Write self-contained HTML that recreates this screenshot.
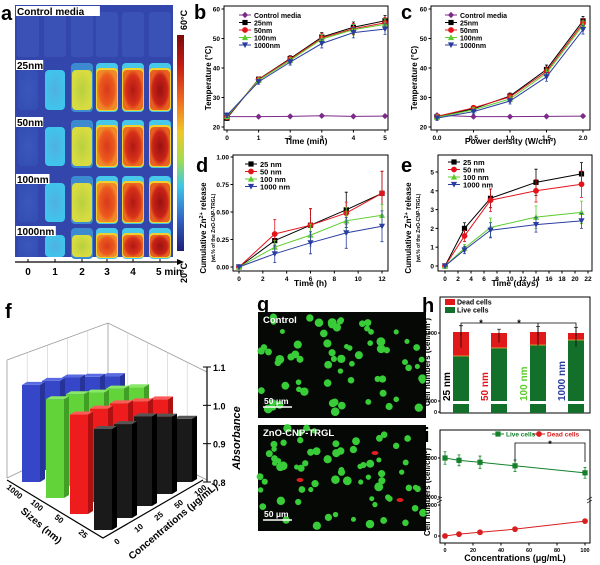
<!DOCTYPE html>
<html><head><meta charset="utf-8">
<style>
html,body{margin:0;padding:0;background:#fff;}
svg{display:block;font-family:"Liberation Sans",Arial,sans-serif;font-weight:bold;}
</style></head>
<body>
<svg id="fig" width="600" height="565" viewBox="0 0 600 565" xmlns="http://www.w3.org/2000/svg">
<defs>
<linearGradient id="cbar" x1="0" y1="0" x2="0" y2="1">
<stop offset="0" stop-color="#7a0a0a"/><stop offset="0.15" stop-color="#c81e14"/><stop offset="0.3" stop-color="#f06a1e"/>
<stop offset="0.45" stop-color="#f0c828"/><stop offset="0.58" stop-color="#a0dc50"/><stop offset="0.7" stop-color="#3cc8e8"/>
<stop offset="0.85" stop-color="#3264c8"/><stop offset="1" stop-color="#1e1e78"/></linearGradient>
<radialGradient id="hot5"><stop offset="0" stop-color="#9a1010"/><stop offset="0.75" stop-color="#c82418"/><stop offset="1" stop-color="#e86020"/></radialGradient>
<radialGradient id="hot4"><stop offset="0" stop-color="#b01814"/><stop offset="0.75" stop-color="#d8321a"/><stop offset="1" stop-color="#ec6a20"/></radialGradient>
<radialGradient id="hot3"><stop offset="0" stop-color="#d83a1a"/><stop offset="0.75" stop-color="#ec5a1e"/><stop offset="1" stop-color="#f08a28"/></radialGradient>
<radialGradient id="hot2"><stop offset="0" stop-color="#b8d040"/><stop offset="1" stop-color="#d8dc40"/></radialGradient>
<radialGradient id="hot1"><stop offset="0" stop-color="#50b0e0"/><stop offset="1" stop-color="#40c4ec"/></radialGradient>
<radialGradient id="hot0"><stop offset="0" stop-color="#3a58bc"/><stop offset="1" stop-color="#3550b4"/></radialGradient>
</defs>
<g id="panelA"></g>
<g id="panelB"></g>
<g id="panelC"></g>
<g id="panelD"></g>
<g id="panelE"></g>
<g id="panelF"></g>
<g id="panelG"></g>
<g id="panelH"></g>
<g id="panelI"></g>
</svg>
<script>
// ---------- data ----------
const bTimes=[0,1,2,3,4,5];
const bControl=[23.5,23.5,23.6,23.8,23.6,23.7];
const b25=[23,36.2,43.2,50.5,53.8,56];
const b50=[23.3,36.1,43,50.2,53.3,55.3];
const b100=[23.6,35.8,42.6,49.8,53,54.8];
const b1000=[24,35.3,42,48.3,52,53.2];
const bErr=[0.8,0.8,1,1.5,1.8,1.8];
const cPowers=[0,0.5,1,1.5,2];
const cControl=[24,23.5,23.5,23.6,23.7];
const c25=[23.5,26.2,30.5,39.5,56];
const c50=[23.6,26.5,30.2,38.8,55.2];
const c100=[23.3,25.8,29.5,38.2,54.5];
const c1000=[23,25.2,28.8,37,53];
const cErr=[0.8,0.8,1,1.5,1.5];
const dHours=[0,3,6,9,12];
const d25=[0,0.24,0.38,0.52,0.67];
const d50=[0,0.30,0.38,0.49,0.67];
const d100=[0,0.18,0.29,0.42,0.47];
const d1000=[0,0.12,0.22,0.31,0.37];
const dErr25=[0,0.05,0.15,0.16,0.2];
const dErr50=[0,0.13,0.15,0.1,0.2];
const dErr100=[0,0.06,0.1,0.12,0.1];
const dErr1000=[0,0.08,0.1,0.14,0.14];
const eDays=[0,3,7,14,21];
const e25=[0,2.0,3.6,4.45,4.9];
const e50=[0,1.6,3.5,4.0,4.35];
const e100=[0,0.95,2.05,2.6,2.85];
const e1000=[0,0.85,1.9,2.2,2.4];
const eErr25=[0,0.3,0.5,0.7,0.6];
const eErr50=[0,0.3,0.6,0.6,0.7];
const eErr100=[0,0.2,0.5,0.6,0.6];
const eErr1000=[0,0.2,0.4,0.4,0.4];
const fSizes=["1000","100","50","25"];
const fConcs=["0","10","25","50","100"];
const fBlue=[1.02,1.03,1.04,1.04,1.04];
const fGreen=[1.00,1.01,1.01,1.02,1.02];
const fRed=[0.98,0.99,1.00,1.00,1.00];
const fBlack=[0.965,0.97,0.985,0.975,0.955];
const hSizes=["25 nm","50 nm","100 nm","1000 nm"];
const hTotal=[5015,5000,5015,5000];
const hLive=[4662,4780,4823,4897];
const hErr=[230,140,200,200];
const iConcs=[0,10,25,50,100];
const iLive=[5000,4940,4890,4800,4620];
const iDead=[0,60,120,220,480];
const iLiveErr=[160,140,160,150,140];

const NS="http://www.w3.org/2000/svg";
function mk(parent,tag,attrs,text){const e=document.createElementNS(NS,tag);for(const k in attrs)e.setAttribute(k,attrs[k]);if(text!==undefined)e.textContent=text;parent.appendChild(e);return e;}

// ---------- panel a: thermal image ----------
(function(){
const g=document.getElementById('panelA');
let t=mk(g,'text',{x:1,y:20,'font-size':20});t.textContent='a';

let bg=mk(g,'rect',{x:15,y:5,width:158,height:252,fill:'#3246ac'});

const cols=[28,55,82,107,133,160];
cols.forEach(cx=>{const r=mk(g,'rect',{x:cx-11,y:12,width:22,height:45,rx:3,fill:'#3a52b6'});
});
const rows=[[70,110],[127,166],[183,222],[235,262]];
rows.forEach(rw=>{
 cols.forEach((cx,i)=>{
  const y0=rw[0],y1=Math.min(rw[1],257),h=y1-y0;
  if(i>=2){const cap=mk(g,'rect',{x:cx-11,y:y0-7,width:22,height:h+9,rx:4,fill:i>=3?'#48c8e8':'#3c8ad0'});
   }
  if(i>=3){const y=mk(g,'rect',{x:cx-11,y:y0-2,width:22,height:h+3,rx:4,fill:'#f0d030'});
   }
  const c=mk(g,'rect',{x:cx-10,y:y0,width:20,height:h,rx:4,fill:'url(#hot'+i+')'});
  
 });
});
const labels=[['Control media',16,6],['25nm',16,60],['50nm',16,117],['100nm',16,174],['1000nm',16,226]];
labels.forEach(l=>{const w=l[0].length*6.3+2;
 const r=mk(g,'rect',{x:l[1],y:l[2],width:w,height:10,fill:'#fff'});
 
 const tx=mk(g,'text',{x:l[1]+1,y:l[2]+9,'font-size':10},l[0]);
 });
const cb=mk(g,'rect',{x:177,y:35,width:7,height:216,fill:'url(#cbar)'});

const t1=mk(g,'text',{x:0,y:0,'font-size':9,transform:'translate(187,30) rotate(-90)'},'60°C');

const t2=mk(g,'text',{x:0,y:0,'font-size':9,transform:'translate(187,283) rotate(-90)'},'20°C');

const ax=mk(g,'line',{x1:15,y1:262,x2:180,y2:262,stroke:'#000','stroke-width':1.3});

const ar=mk(g,'polygon',{points:'184,262 177,259 177,265',fill:'#000'});

['0','1','2','3','4','5 min'].forEach((s,i)=>{
 const tk=mk(g,'line',{x1:cols[i],y1:259,x2:cols[i],y2:262,stroke:'#000'});
 
 const tl=mk(g,'text',{x:i==5?cols[i]-4:cols[i],y:275,'font-size':10,'text-anchor':i==5?'start':'middle'},s);
 });
})();

// ---------- generic line chart ----------
function marker(g,type,x,y,color){
 let m;const s=2.6;
 if(type==='square')m=mk(g,'rect',{x:x-s,y:y-s,width:2*s,height:2*s,fill:color});
 else if(type==='circle')m=mk(g,'circle',{cx:x,cy:y,r:s+0.3,fill:color});
 else if(type==='up')m=mk(g,'polygon',{points:`${x},${y-s-0.5} ${x-s-0.5},${y+s} ${x+s+0.5},${y+s}`,fill:color});
 else if(type==='down')m=mk(g,'polygon',{points:`${x},${y+s+0.5} ${x-s-0.5},${y-s} ${x+s+0.5},${y-s}`,fill:color});
 else m=mk(g,'polygon',{points:`${x},${y-s-0.5} ${x+s+0.5},${y} ${x},${y+s+0.5} ${x-s-0.5},${y}`,fill:color});
 
 
 return m;
}
function lineChart(o){
 const g=document.getElementById(o.id);
 const X=v=>o.px0+(v-o.xmin)/(o.xmax-o.xmin)*(o.px1-o.px0);
 const Y=v=>o.py1-(v-o.ymin)/(o.ymax-o.ymin)*(o.py1-o.py0);
 const fr=mk(g,'rect',{x:o.fx0,y:o.fy0,width:o.fx1-o.fx0,height:o.fy1-o.fy0,fill:'none',stroke:'#000','stroke-width':1});
 
 o.xticks.forEach((v,i)=>{const x=X(v);
  const tk=mk(g,'line',{x1:x,y1:o.fy1,x2:x,y2:o.fy1+2.5,stroke:'#000'});
  
  const tl=mk(g,'text',{x:x,y:o.fy1+10,'font-size':6.5,'text-anchor':'middle'},o.xlabels[i]);
  });
 o.yticks.forEach((v,i)=>{const y=Y(v);
  const tk=mk(g,'line',{x1:o.fx0,y1:y,x2:o.fx0-2.5,y2:y,stroke:'#000'});
  
  const tl=mk(g,'text',{x:o.fx0-4,y:y+2.5,'font-size':6.5,'text-anchor':'end'},o.ylabels[i]);
  });
 const xt=mk(g,'text',{x:(o.fx0+o.fx1)/2,y:o.xtitleY,'font-size':8.5,'text-anchor':'middle'},o.xtitle);
 
 o.ytitles.forEach(yt=>{const t=mk(g,'text',{x:0,y:0,'font-size':yt[2],'text-anchor':'middle',transform:`translate(${yt[0]},${yt[3]}) rotate(-90)`});
  t.innerHTML=yt[1];
  });
 const pl=mk(g,'text',{x:o.label[1],y:o.label[2],'font-size':20},o.label[0]);
 
 o.series.forEach(s=>{
  const pts=s.vals.map((v,i)=>X(o.xs[i])+','+Y(v)).join(' ');
  const ln=mk(g,'polyline',{points:pts,fill:'none',stroke:s.color,'stroke-width':1});
  
  s.vals.forEach((v,i)=>{const e=s.err?s.err[i]:0;
   if(e>0){const x=X(o.xs[i]);
    const eb=mk(g,'path',{d:`M${x},${Y(v-e)}V${Y(v+e)}M${x-1.5},${Y(v+e)}h3M${x-1.5},${Y(v-e)}h3`,stroke:s.color,'stroke-width':0.8,fill:'none'});
    }
   marker(g,s.marker,X(o.xs[i]),Y(v),s.color);});
 });
 o.series.forEach((s,i)=>{const lx=o.fx0+o.legX,ly=o.fy0+o.legY+i*o.legDy;
  const ll=mk(g,'line',{x1:lx,y1:ly,x2:lx+12,y2:ly,stroke:s.color,'stroke-width':1});
  
  marker(g,s.marker,lx+6,ly,s.color);
  const lt=mk(g,'text',{x:lx+15,y:ly+2.8,'font-size':o.legFont},s.name);
  });
}
const PUR='#7b2a88',BLK='#000',RED='#e3151c',GRN='#5ccd2c',BLU='#2b3ea0';
lineChart({id:'panelB',fx0:224,fx1:388,fy0:6,fy1:130,px0:227,px1:385,py0:9,py1:127,xmin:0,xmax:5,ymin:20,ymax:60,
 xs:bTimes,xticks:[0,1,2,3,4,5],xlabels:['0','1','2','3','4','5'],yticks:[20,30,40,50,60],ylabels:['20','30','40','50','60'],
 xtitle:'Time (min)',xtitleY:144,ytitles:[[211,'Temperature (°C)',8,78]],label:['b',194,19],legX:15,legY:9,legDy:7.5,legFont:7,
 series:[{name:'Control media',vals:bControl,err:bErr.map(()=>0.5),color:PUR,marker:'diamond'},
 {name:'25nm',vals:b25,err:bErr,color:BLK,marker:'square'},{name:'50nm',vals:b50,err:bErr,color:RED,marker:'circle'},
 {name:'100nm',vals:b100,err:bErr,color:GRN,marker:'up'},{name:'1000nm',vals:b1000,err:bErr,color:BLU,marker:'down'}]});
lineChart({id:'panelC',fx0:431,fx1:590,fy0:6,fy1:130,px0:437,px1:583,py0:9,py1:127,xmin:0,xmax:2,ymin:20,ymax:60,
 xs:cPowers,xticks:[0,0.5,1,1.5,2],xlabels:['0.0','0.5','1.0','1.5','2.0'],yticks:[20,30,40,50,60],ylabels:['20','30','40','50','60'],
 xtitle:'Power density (W/cm²)',xtitleY:144,ytitles:[[417,'Temperature (°C)',8,78]],label:['c',401,19],legX:14,legY:9,legDy:7.5,legFont:7,
 series:[{name:'Control media',vals:cControl,err:cErr.map(()=>0.5),color:PUR,marker:'diamond'},
 {name:'25nm',vals:c25,err:cErr,color:BLK,marker:'square'},{name:'50nm',vals:c50,err:cErr,color:RED,marker:'circle'},
 {name:'100nm',vals:c100,err:cErr,color:GRN,marker:'up'},{name:'1000nm',vals:c1000,err:cErr,color:BLU,marker:'down'}]});
lineChart({id:'panelD',fx0:233,fx1:388,fy0:155,fy1:271,px0:239,px1:382,py0:157,py1:267,xmin:0,xmax:12,ymin:0,ymax:1,
 xs:dHours,xticks:[0,2,4,6,8,10,12],xlabels:['0','2','4','6','8','10','12'],yticks:[0,0.25,0.5,0.75,1],ylabels:['0.00','0.25','0.50','0.75','1.00'],
 xtitle:'Time (h)',xtitleY:286,ytitles:[[206,'Cumulative Zn<tspan baseline-shift="super" font-size="5.5">2+</tspan> release',8,228],[215,'(wt.% of the ZnO-CNP-TRGL)',5,228]],label:['d',196,172],legX:12,legY:9,legDy:7.5,legFont:7.5,
 series:[{name:'25 nm',vals:d25,err:dErr25,color:BLK,marker:'square'},{name:'50 nm',vals:d50,err:dErr50,color:RED,marker:'circle'},
 {name:'100 nm',vals:d100,err:dErr100,color:GRN,marker:'up'},{name:'1000 nm',vals:d1000,err:dErr1000,color:BLU,marker:'down'}]});
lineChart({id:'panelE',fx0:438,fx1:592,fy0:155,fy1:271,px0:445,px1:588,py0:172,py1:266,xmin:0,xmax:22,ymin:0,ymax:5,
 xs:eDays,xticks:[0,2,4,6,8,10,12,14,16,18,20,22],xlabels:['0','2','4','6','8','10','12','14','16','18','20','22'],yticks:[0,1,2,3,4,5],ylabels:['0','1','2','3','4','5'],
 xtitle:'Time (days)',xtitleY:286,ytitles:[[411,'Cumulative Zn<tspan baseline-shift="super" font-size="5.5">2+</tspan> release',8,228],[420,'(wt.% of the ZnO-CNP-TRGL)',5,228]],label:['e',401,172],legX:10,legY:7,legDy:7.5,legFont:7.5,
 series:[{name:'25 nm',vals:e25,err:eErr25,color:BLK,marker:'square'},{name:'50 nm',vals:e50,err:eErr50,color:RED,marker:'circle'},
 {name:'100 nm',vals:e100,err:eErr100,color:GRN,marker:'up'},{name:'1000 nm',vals:e1000,err:eErr1000,color:BLU,marker:'down'}]});

// ---------- panel f: 3D bars ----------
(function(){
const g=document.getElementById('panelF');
const pl=mk(g,'text',{x:5,y:318,'font-size':20},'f');

const walls=[['M7,360 L108,323 L207,372','back-top-edges'],['M108,323 V430','back-corner'],['M7,360 V478','left-edge'],['M207,372 V480','right-edge'],
 ['M7,478 L108,430 L207,480','floor-back-edges']];
walls.forEach(w=>{const p=mk(g,'path',{d:w[0],stroke:'#999','stroke-width':0.8,fill:'none'});
 });
for(let k=1;k<5;k++){const x=7+k*20.2,y=360-k*7.4;
 const gl=mk(g,'path',{d:`M${x},${y} V${y+110}`,stroke:'#ccc','stroke-width':0.6,fill:'none'});
 
 const x2=108+k*19.8,y2=323+k*9.8;
 const gl2=mk(g,'path',{d:`M${x2},${y2} V${y2+105}`,stroke:'#ccc','stroke-width':0.6,fill:'none'});
 }
const rows=[fBlue,fGreen,fRed,fBlack];
const cols=[['#3547c8','#26339a','#5a6ae0'],['#62d43a','#3fa025','#8ae868'],['#ee1c1c','#b01010','#ff5a5a'],['#1a1a1a','#000','#555']];
const H=(v,r,c)=>(v-0.7)*370*(0.82+0.07*r-0.09*c);
rows.forEach((vals,r)=>{
 for(let c=vals.length-1;c>=0;c--){
  const bx=22+r*24+c*20,by=482+r*16-c*12,h=H(vals[c],r,c),w=18,dx=5,dy=-3;
  const side=mk(g,'polygon',{points:`${bx+w},${by} ${bx+w+dx},${by+dy} ${bx+w+dx},${by+dy-h} ${bx+w},${by-h}`,fill:cols[r][1]});
  
  const fr=mk(g,'rect',{x:bx,y:by-h,width:w,height:h,fill:cols[r][0]});
  
  const top=mk(g,'polygon',{points:`${bx},${by-h} ${bx+dx},${by-h+dy} ${bx+w+dx},${by-h+dy} ${bx+w},${by-h}`,fill:cols[r][2]});
  
 }
});
const ay=v=>482-(v-0.8)/0.3*115;
const axl=mk(g,'line',{x1:207,y1:ay(0.8),x2:207,y2:ay(1.1),stroke:'#000','stroke-width':1.2});

[0.8,0.9,1.0,1.1].forEach(v=>{const tk=mk(g,'line',{x1:203,y1:ay(v),x2:211,y2:ay(v),stroke:'#000'});
 
 const tl=mk(g,'text',{x:213,y:ay(v)+4,'font-size':9},v.toFixed(1));
 });
const at=mk(g,'text',{x:0,y:0,'font-size':11,'font-style':'italic','text-anchor':'middle',transform:'translate(240,438) rotate(-90)'},'Absorbance');

const la=mk(g,'path',{d:'M7,480 L103,538 L203,480',stroke:'#000','stroke-width':1.2,fill:'none'});

fSizes.forEach((s,i)=>{const x=14+i*24,y=488+i*15;
 const tl=mk(g,'text',{x:0,y:0,'font-size':8,transform:`translate(${x-8},${y}) rotate(40)`},s);
 });
const st=mk(g,'text',{x:0,y:0,'font-size':10,transform:'translate(20,512) rotate(40)'},'Sizes (nm)');

fConcs.forEach((s,i)=>{const x=117+i*20,y=545-i*12;
 const tl=mk(g,'text',{x:0,y:0,'font-size':8,transform:`translate(${x},${y}) rotate(-40)`},s);
 });
const ct=mk(g,'text',{x:0,y:0,'font-size':10,transform:'translate(132,560) rotate(-40)'},'Concentrations (μg/mL)');

})();

// ---------- panel g: micrographs ----------
(function(){
const g=document.getElementById('panelG');
const pl=mk(g,'text',{x:257,y:311,'font-size':20},'g');

let seed=7;const rnd=()=>{seed=(seed*9301+49297)%233280;return seed/233280;};
[[312,'Control',0,'control-image'],[425,'ZnO-CNP-TRGL',3,'treated-image']].forEach(im=>{
 const y0=im[0];
 const r=mk(g,'rect',{x:258,y:y0,width:168,height:106,fill:'#050805'});
 
 for(let k=0;k<70;k++){const cx=260+rnd()*164,cy=y0+3+rnd()*100,rr=2.5+rnd()*2;
  const c=mk(g,'circle',{cx:cx,cy:cy,r:rr,fill:'#38cc38'});
  }
 const reds=[[375,28],[300,55],[400,75]];
 for(let k=0;k<im[2];k++){const c=mk(g,'ellipse',{cx:reds[k][0],cy:y0+reds[k][1],rx:3.5,ry:2,fill:'#e02020'});
  }
 const t=mk(g,'text',{x:263,y:y0+11,'font-size':9.5,fill:'#fff'},im[1]);
 
 const sb=mk(g,'line',{x1:263,y1:y0+95,x2:292,y2:y0+95,stroke:'#fff','stroke-width':1.5});
 
 const st=mk(g,'text',{x:264,y:y0+92,'font-size':8.5,fill:'#fff'},'50 μm');
 
});
})();

// ---------- panel h ----------
(function(){
const g=document.getElementById('panelH');
const fx0=440,fx1=590,fy0=297,fy1=413;
const Y=v=>401-(v-4000)*0.068;
const xc=[461,499,538,576];
const pl=mk(g,'text',{x:422,y:312,'font-size':20},'h');

const fr=mk(g,'rect',{x:fx0,y:fy0,width:fx1-fx0,height:fy1-fy0,fill:'none',stroke:'#000'});

const hc=['#000','#e3151c','#5ccd2c','#2b3ea0'];
hSizes.forEach((s,i)=>{const x=xc[i];
 const lv=mk(g,'rect',{x:x-8,y:Y(hLive[i]),width:16,height:fy1-Y(hLive[i]),fill:'#13702a'});
 
 const dd=mk(g,'rect',{x:x-8,y:Y(hTotal[i]),width:16,height:Y(hLive[i])-Y(hTotal[i]),fill:'#e01a1a'});
 
 const bl=mk(g,'line',{x1:x-8,y1:Y(hLive[i]),x2:x+8,y2:Y(hLive[i]),stroke:'#e0b040','stroke-width':0.8});
 
 const eb=mk(g,'path',{d:`M${x},${Y(hTotal[i]-hErr[i])}V${Y(hTotal[i]+hErr[i]*0.4)}M${x-2},${Y(hTotal[i]+hErr[i]*0.4)}h4`,stroke:'#000','stroke-width':0.7,fill:'none'});
 
 const lt=mk(g,'text',{x:0,y:0,'font-size':10,fill:hc[i],transform:`translate(${x-11},401) rotate(-90)`},s);
 
});
const br=mk(g,'rect',{x:fx0+1,y:401,width:fx1-fx0-2,height:3,fill:'#fff'});

[[5000,333,'5000'],[4000,401,'4000'],[0,412,'0']].forEach(t=>{
 const tk=mk(g,'line',{x1:fx0,y1:t[1],x2:fx0-2,y2:t[1],stroke:'#000'});
 
 const tl=mk(g,'text',{x:fx0-3,y:t[1]+2,'font-size':5.5,'text-anchor':'end'},t[2]);
 });
const sig=mk(g,'path',{d:`M${xc[0]},${336}V${323}H${xc[3]}V${336}M${xc[2]},323V336`,stroke:'#000','stroke-width':0.8,fill:'none'});

[[481,'*'],[519,'*']].forEach(s=>{const t=mk(g,'text',{x:s[0],y:326,'font-size':9,'text-anchor':'middle'},s[1]);
 });
[['#e01a1a','Dead cells',302],['#13702a','Live cells',310]].forEach(l=>{
 const r=mk(g,'rect',{x:445,y:l[2]-3,width:10,height:6,fill:l[0]});
 
 const t=mk(g,'text',{x:457,y:l[2]+2.5,'font-size':7},l[1]);
 });
const yt=mk(g,'text',{x:0,y:0,'font-size':8,'text-anchor':'middle',transform:'translate(430,362) rotate(-90)'});
yt.innerHTML='Cell numbers (cell/cm<tspan baseline-shift="super" font-size="5">2</tspan>)';

})();

// ---------- panel i ----------
(function(){
const g=document.getElementById('panelI');
const fx0=440,fx1=590,fy0=430,fy1=543;
const X=v=>445+v*1.4;
const Yu=v=>458-(v-5000)*0.039;
const Yl=v=>536-v*0.031;
const pl=mk(g,'text',{x:424,y:442,'font-size':20},'i');

const fr=mk(g,'rect',{x:fx0,y:fy0,width:fx1-fx0,height:fy1-fy0,fill:'none',stroke:'#000'});

const lp=iConcs.map((c,i)=>X(c)+','+Yu(iLive[i])).join(' ');
const ll=mk(g,'polyline',{points:lp,fill:'none',stroke:'#13802a','stroke-width':1});

iConcs.forEach((c,i)=>{const x=X(c),y=Yu(iLive[i]),e=iLiveErr[i];
 const eb=mk(g,'path',{d:`M${x},${Yu(iLive[i]-e)}V${Yu(iLive[i]+e)}M${x-1.5},${Yu(iLive[i]+e)}h3M${x-1.5},${Yu(iLive[i]-e)}h3`,stroke:'#13802a','stroke-width':0.8,fill:'none'});
 
 marker(g,'square',x,y,'#13802a');});
const dp=iConcs.map((c,i)=>X(c)+','+Yl(iDead[i])).join(' ');
const dl=mk(g,'polyline',{points:dp,fill:'none',stroke:'#d81e1e','stroke-width':1});

iConcs.forEach((c,i)=>marker(g,'circle',X(c),Yl(iDead[i]),'#d81e1e'));
[[5000,Yu(5000),'5000'],[4000,Yu(4000),'4000'],[1000,Yl(1000),'1000'],[0,Yl(0),'0']].forEach(t=>{
 const tk=mk(g,'line',{x1:fx0,y1:t[1],x2:fx0-2,y2:t[1],stroke:'#000'});
 
 const tl=mk(g,'text',{x:fx0-3,y:t[1]+2,'font-size':5.5,'text-anchor':'end'},t[2]);
 });
const brk=mk(g,'path',{d:'M437,500 l5,-3 M437,503 l5,-3 M587,500 l5,-3 M587,503 l5,-3',stroke:'#000','stroke-width':0.7});

[0,20,40,60,80,100].forEach(v=>{const tk=mk(g,'line',{x1:X(v),y1:fy1,x2:X(v),y2:fy1+2.5,stroke:'#000'});
 
 const tl=mk(g,'text',{x:X(v),y:fy1+9,'font-size':5.5,'text-anchor':'middle'},String(v));
 });
const xt=mk(g,'text',{x:515,y:561,'font-size':9,'text-anchor':'middle'},'Concentrations (μg/mL)');

const yt=mk(g,'text',{x:0,y:0,'font-size':8,'text-anchor':'middle',transform:'translate(430,492) rotate(-90)'});
yt.innerHTML='Cell numbers (cell/cm<tspan baseline-shift="super" font-size="5">2</tspan>)';

const sig=mk(g,'path',{d:`M${X(50)},462V443H${X(100)}V462`,stroke:'#000','stroke-width':0.8,fill:'none'});

const star=mk(g,'text',{x:X(75),y:447,'font-size':9,'text-anchor':'middle'},'*');

[['#13802a','Live cells',505,'square'],['#d81e1e','Dead cells',546,'circle']].forEach(l=>{
 const ln=mk(g,'line',{x1:l[2]-13,y1:434,x2:l[2]-1,y2:434,stroke:l[0]});
 
 marker(g,l[3],l[2]-7,434,l[0]);
 const t=mk(g,'text',{x:l[2]+1,y:436.5,'font-size':6.5,fill:l[0]},l[1]);
 });
})();
</script>
</body></html>
